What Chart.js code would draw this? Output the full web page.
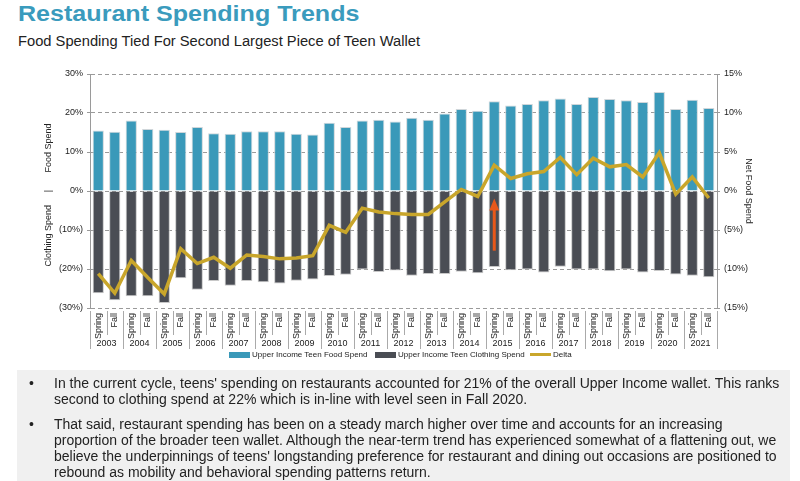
<!DOCTYPE html>
<html>
<head>
<meta charset="utf-8">
<script src="https://cdn.jsdelivr.net/npm/chart.js@4.4.0/dist/chart.umd.min.js"></script>
<style>
  body { margin: 0; width: 800px; height: 481px; background: #fff; position: relative; overflow: hidden; font-family: "Liberation Sans", Arial, sans-serif; }
  #title { position: absolute; left: 18px; top: 1px; font-size: 22px; font-weight: bold; color: #3a9bbd; transform: scaleX(1.14); transform-origin: left top; white-space: nowrap; }
  #subtitle { position: absolute; left: 18px; top: 33px; font-size: 14px; color: #222; transform: scaleX(1.05); transform-origin: left top; white-space: nowrap; }
  #wrap { position: absolute; left: 0; top: 50px; width: 800px; height: 315px; }
  #legend { position: absolute; top: 350px; left: 0; width: 800px; height: 12px; font-size: 8px; color: #222; }
  #legend span.item { position: absolute; top: 0; white-space: nowrap; }
  #legend i { display: inline-block; width: 21px; vertical-align: middle; margin-right: 2px; }
  #notes { position: absolute; left: 17px; top: 370px; width: 773px; height: 111px; background: #f0f0f0; }
  #notes p { position: absolute; left: 37px; margin: 0; font-size: 14px; line-height: 16px; color: #222; white-space: nowrap; }
  #notes p::before { content: "•"; position: absolute; left: -25px; }
</style>
</head>
<body>
<div id="title">Restaurant Spending Trends</div>
<div id="subtitle">Food Spending Tied For Second Largest Piece of Teen Wallet</div>
<div id="wrap"><canvas id="chart" width="800" height="315"></canvas></div>
<div id="legend"></div>
<div id="notes">
  <p style="top:5px">In the current cycle, teens' spending on restaurants accounted for 21% of the overall Upper Income wallet. This ranks<br>second to clothing spend at 22% which is in-line with level seen in Fall 2020.</p>
  <p style="top:46px">That said, restaurant spending has been on a steady march higher over time and accounts for an increasing<br>proportion of the broader teen wallet. Although the near-term trend has experienced somewhat of a flattening out, we<br>believe the underpinnings of teens' longstanding preference for restaurant and dining out occasions are positioned to<br>rebound as mobility and behavioral spending patterns return.</p>
</div>
<script>
const years = ["2003","2004","2005","2006","2007","2008","2009","2010","2011","2012",
               "2013","2014","2015","2016","2017","2018","2019","2020","2021"];
const seasons = ["Spring","Fall"];
const periods = years.flatMap(y => seasons);

const foodSpend = [15.5,15.2,18.1,15.9,15.7,15.1,16.4,14.8,14.7,15.3,15.3,15.3,14.7,14.5,17.5,16.4,18.1,18.3,17.8,18.8,
                   18.3,19.9,21.0,20.6,23.0,21.9,22.3,23.3,23.7,22.3,24.1,23.6,23.3,22.8,25.4,21.0,23.4,21.3];
const clothingSpend = [-26.2,-28.0,-27.0,-27.0,-28.7,-22.4,-25.3,-23.1,-24.3,-23.1,-23.4,-23.7,-23.0,-22.7,-21.8,-21.5,-20.1,-20.8,-20.4,-21.7,
                       -21.3,-21.3,-20.7,-21.1,-19.5,-20.3,-20.1,-20.9,-19.4,-20.1,-20.1,-20.6,-20.1,-20.9,-20.5,-21.4,-21.7,-22.1];
const delta = [-10.6,-13.1,-8.9,-11.1,-13.2,-7.4,-9.3,-8.5,-9.9,-8.2,-8.4,-8.7,-8.6,-8.3,-4.4,-5.3,-2.2,-2.7,-2.9,-3.0,
               -3.0,-1.4,0.2,-0.7,3.3,1.6,2.2,2.5,4.3,2.1,4.2,3.1,3.4,1.8,4.9,-0.4,1.8,-0.9];

const leftRange = [-30, 30, 10];
const rightRange = [-15, 15, 5];
// orange arrow: which period, from / to (left axis %)
const arrowAt = 24, arrowFrom = -15.3, arrowTo = -1.9;

const TEAL = "#3a99b9", DARK = "#4a4d54", GOLD = "#c9a62b", ORANGE = "#e8581a";

const pct = v => v < 0 ? "(" + (-v) + "%)" : v + "%";

// year groups, separators, axis titles, arrow
const extras = {
  id: "extras",
  afterDraw(chart) {
    const ctx = chart.ctx, x = chart.scales.x, y = chart.scales.y, a = chart.chartArea;
    ctx.save();
    ctx.strokeStyle = "#aaa";
    ctx.lineWidth = 1;
    const step = x.getPixelForValue(1) - x.getPixelForValue(0);
    for (let i = 0; i <= periods.length; i++) {
      const px = Math.round(x.getPixelForValue(i) - step / 2) + 0.5;
      const tall = i % 2 === 0;
      ctx.beginPath();
      ctx.moveTo(px, a.bottom + 3);
      ctx.lineTo(px, a.bottom + (tall ? 41 : 27));
      ctx.stroke();
    }
    ctx.fillStyle = "#222";
    ctx.font = "9px 'Liberation Sans', Arial";
    ctx.textAlign = "center";
    ctx.textBaseline = "middle";
    years.forEach((yr, i) => {
      const cx = (x.getPixelForValue(2 * i) + x.getPixelForValue(2 * i + 1)) / 2;
      ctx.fillText(yr, cx, a.bottom + 36);
    });

    // axis titles
    const vt = (t, px, py, rot) => {
      ctx.save(); ctx.translate(px, py); ctx.rotate(rot); ctx.fillText(t, 0, 0); ctx.restore();
    };
    vt("Food Spend", 49, y.getPixelForValue(11), -Math.PI / 2);
    vt("|", 49, y.getPixelForValue(0), -Math.PI / 2);
    vt("Clothing Spend", 49, y.getPixelForValue(-11.5), -Math.PI / 2);
    vt("Net Food Spend", 748, y.getPixelForValue(0), Math.PI / 2);

    // arrow
    const ax = x.getPixelForValue(arrowAt), y0 = y.getPixelForValue(arrowFrom), y1 = y.getPixelForValue(arrowTo);
    ctx.strokeStyle = ORANGE; ctx.fillStyle = ORANGE; ctx.lineWidth = 3;
    ctx.beginPath(); ctx.moveTo(ax, y0); ctx.lineTo(ax, y1 + 10); ctx.stroke();
    ctx.beginPath(); ctx.moveTo(ax, y1); ctx.lineTo(ax - 5, y1 + 12); ctx.lineTo(ax + 5, y1 + 12); ctx.closePath(); ctx.fill();
    ctx.restore();
  }
};

const chart = new Chart(document.getElementById("chart"), {
  data: {
    labels: periods,
    datasets: [
      { type: "line", label: "Delta", data: delta, yAxisID: "y1", order: 0,
        borderColor: GOLD, backgroundColor: GOLD, borderWidth: 3.5, pointRadius: 0, tension: 0 },
      { type: "bar", label: "Upper Income Teen Food Spend", data: foodSpend, yAxisID: "y", order: 1,
        backgroundColor: TEAL, borderColor: "#cfd6da", borderWidth: 1, barPercentage: 0.68, categoryPercentage: 1 },
      { type: "bar", label: "Upper Income Teen Clothing Spend", data: clothingSpend, yAxisID: "y", order: 1,
        backgroundColor: DARK, borderColor: "#c8c8c8", borderWidth: 1, barPercentage: 0.68, categoryPercentage: 1 }
    ]
  },
  options: {
    responsive: false,
    animation: false,
    layout: { padding: { top: 24, left: 0, right: 0, bottom: 0 } },
    plugins: { legend: { display: false }, tooltip: { enabled: false } },
    scales: {
      x: {
        stacked: true,
        grid: { display: false, drawTicks: false },
        border: { display: false },
        ticks: { autoSkip: false, minRotation: 90, maxRotation: 90, padding: 5, color: "#222",
                 font: { size: 9, family: "'Liberation Sans', Arial" } },
        afterFit: s => { s.height = 57; }
      },
      y: {
        stacked: true, position: "left",
        min: leftRange[0], max: leftRange[1],
        ticks: { stepSize: leftRange[2], callback: pct, color: "#222", padding: 4,
                 font: { size: 9, family: "'Liberation Sans', Arial" } },
        grid: { color: "#9a9a9a", tickLength: 3, tickColor: "#9a9a9a" },
        border: { display: true, color: "#9a9a9a", dash: [4, 3] },
        afterFit: s => { s.width = 90; }
      },
      y1: {
        position: "right",
        min: rightRange[0], max: rightRange[1],
        ticks: { stepSize: rightRange[2], callback: pct, color: "#222", padding: 4,
                 font: { size: 9, family: "'Liberation Sans', Arial" } },
        grid: { drawOnChartArea: false, tickLength: 3, color: "#9a9a9a" },
        border: { display: true, color: "#9a9a9a" },
        afterFit: s => { s.width = 83; }
      }
    }
  },
  plugins: [extras]
});

// legend built from the datasets
const legend = document.getElementById("legend");
const legendX = [229, 375, 530];
[1, 2, 0].forEach((di, k) => {
  const ds = chart.data.datasets[di];
  const item = document.createElement("span");
  item.className = "item";
  item.style.left = legendX[k] + "px";
  const sw = document.createElement("i");
  sw.style.height = ds.type === "line" ? "3px" : "6px";
  sw.style.background = ds.backgroundColor;
  item.appendChild(sw);
  item.appendChild(document.createTextNode(ds.label));
  legend.appendChild(item);
});
</script>
</body>
</html>
